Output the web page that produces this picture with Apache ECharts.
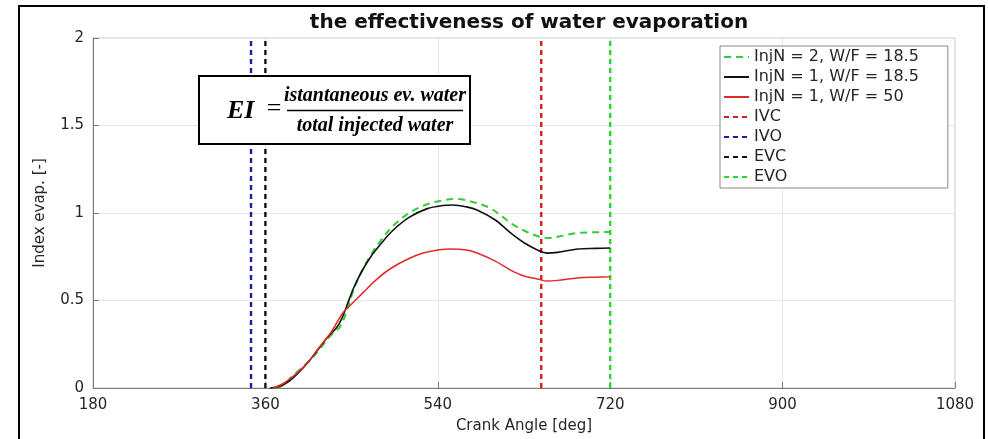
<!DOCTYPE html>
<html>
<head>
<meta charset="utf-8">
<script src="https://cdn.jsdelivr.net/npm/echarts@6/dist/echarts.min.js"></script>
<style>
html,body{margin:0;padding:0;background:#fff;}
#chart{width:989px;height:439px;}
</style>
</head>
<body>
<div id="chart"></div>
<script>
// ---- data ----
const xTicks = [180, 360, 540, 720, 900, 1080];
const yTicks = [0, 0.5, 1, 1.5, 2];

const injN2Angle = [372, 380, 386, 395, 405, 415, 425, 432, 438, 445, 452, 460, 470, 480, 493, 510, 529, 545, 560, 575, 592, 605, 616, 630, 647, 657, 670, 686, 705, 720];
const injN2Value = [0, 0.02, 0.057, 0.10, 0.15, 0.21, 0.28, 0.32, 0.35, 0.44, 0.56, 0.66, 0.76, 0.84, 0.925, 1.0, 1.05, 1.072, 1.08, 1.065, 1.035, 0.99, 0.943, 0.90, 0.863, 0.857, 0.87, 0.886, 0.89, 0.891];

const injN1Angle = [365, 375, 385, 395, 405, 415, 425, 435, 440, 445, 452, 460, 470, 480, 493, 510, 529, 545, 556, 570, 581, 600, 616, 630, 644, 654, 665, 686, 705, 720];
const injN1Value = [0, 0.01, 0.04, 0.09, 0.15, 0.22, 0.29, 0.35, 0.40, 0.47, 0.57, 0.66, 0.75, 0.82, 0.90, 0.975, 1.025, 1.043, 1.046, 1.035, 1.017, 0.96, 0.886, 0.83, 0.789, 0.771, 0.775, 0.794, 0.798, 0.80];

const wf50Angle = [368, 380, 393, 405, 414, 428, 441, 450, 462, 475, 490, 510, 529, 553, 570, 581, 600, 616, 630, 644, 654, 665, 686, 705, 720];
const wf50Value = [0, 0.03, 0.086, 0.15, 0.217, 0.314, 0.43, 0.48, 0.545, 0.615, 0.68, 0.74, 0.777, 0.794, 0.788, 0.771, 0.725, 0.674, 0.64, 0.623, 0.611, 0.615, 0.629, 0.633, 0.635];

const valveNames = ['IVC', 'IVO', 'EVC', 'EVO'];
const valveAngles = [648, 345, 360, 720];
const valveSpan = [0, 2];

const curveNames = ['InjN = 2, W/F = 18.5', 'InjN = 1, W/F = 18.5', 'InjN = 1, W/F = 50'];

// ---- chart ----
const pair = (xs, ys) => xs.map((x, i) => [x, ys[i]]);
const valveColors = ['#d41c1c', '#1c1ca8', '#111111', '#2fd62f'];

const series = [
  { name: curveNames[0], type: 'line', data: pair(injN2Angle, injN2Value), smooth: 0.35, symbol: 'none',
    lineStyle: { color: '#33cc33', width: 2, type: [7, 5] }, itemStyle: { color: '#33cc33' }, z: 3 },
  { name: curveNames[1], type: 'line', data: pair(injN1Angle, injN1Value), smooth: 0.35, symbol: 'none',
    lineStyle: { color: '#111111', width: 1.6 }, itemStyle: { color: '#111111' }, z: 4 },
  { name: curveNames[2], type: 'line', data: pair(wf50Angle, wf50Value), smooth: 0.35, symbol: 'none',
    lineStyle: { color: '#e02a2a', width: 1.5 }, itemStyle: { color: '#e02a2a' }, z: 4 }
];
valveNames.forEach((n, i) => {
  series.push({ name: n, type: 'line', symbol: 'none',
    data: valveSpan.map(v => [valveAngles[i], v]),
    lineStyle: { color: valveColors[i], width: 2.4, type: [5, 4] },
    itemStyle: { color: valveColors[i] }, z: 2 });
});

const chart = echarts.init(document.getElementById('chart'), null, { renderer: 'canvas' });
const F = 'DejaVu Sans';
const S = 'Liberation Serif';
chart.setOption({
  animation: false,
  backgroundColor: '#fff',
  title: {
    text: 'the effectiveness of water evaporation',
    left: 524, top: 8, textAlign: 'center',
    textStyle: { fontFamily: F, fontWeight: 'bold', fontSize: 20, color: '#111' }
  },
  grid: { left: 93, right: 34, top: 38, bottom: 51, show: true, borderColor: '#c8c8c8', borderWidth: 1 },
  legend: {
    orient: 'vertical', left: 720, top: 46,
    data: curveNames.concat(valveNames),
    backgroundColor: '#fff', borderColor: '#8a8a8a', borderWidth: 1,
    padding: [3, 29, 3, 3],
    itemWidth: 25, itemHeight: 14, itemGap: 4,
    itemStyle: { opacity: 0 },
    textStyle: { fontFamily: F, fontSize: 16, color: '#262626', lineHeight: 16 }
  },
  xAxis: {
    type: 'value', min: xTicks[0], max: xTicks[xTicks.length - 1], interval: 180,
    name: 'Crank Angle [deg]', nameLocation: 'middle', nameGap: 31,
    nameTextStyle: { fontFamily: F, fontSize: 15, color: '#262626' },
    axisLine: { show: true, lineStyle: { color: '#7a7a7a', width: 1 } },
    axisTick: { show: true, inside: true, length: 6, lineStyle: { color: '#7a7a7a' } },
    axisLabel: { fontFamily: F, fontSize: 15, color: '#262626', margin: 10, formatter: v => String(v) },
    splitLine: { show: true, lineStyle: { color: '#e6e6e6', width: 1 } }
  },
  yAxis: {
    type: 'value', min: yTicks[0], max: yTicks[yTicks.length - 1], interval: 0.5,
    name: 'Index evap. [-]', nameLocation: 'middle', nameGap: 45, nameRotate: 90,
    nameTextStyle: { fontFamily: F, fontSize: 15, color: '#262626' },
    axisLine: { show: true, lineStyle: { color: '#7a7a7a', width: 1 } },
    axisTick: { show: true, inside: true, length: 6, lineStyle: { color: '#7a7a7a' } },
    axisLabel: { fontFamily: F, fontSize: 15, color: '#262626', margin: 9, formatter: v => String(v) },
    splitLine: { show: true, lineStyle: { color: '#e6e6e6', width: 1 } }
  },
  series: series,
  graphic: [
    { type: 'rect', z: 200, zlevel: 1, silent: true, shape: { x: 19, y: 6, width: 965, height: 445 },
      style: { fill: 'none', stroke: '#000', lineWidth: 2 } },
    { type: 'rect', z: 200, zlevel: 1, shape: { x: 199, y: 76, width: 271, height: 68 },
      style: { fill: '#fff', stroke: '#000', lineWidth: 2 } },
    { type: 'text', z: 201, zlevel: 1, x: 227, y: 111,
      style: { text: 'EI', textAlign: 'left', verticalAlign: 'middle',
        fontFamily: S, fontStyle: 'italic', fontWeight: 'bold', fontSize: 26, fill: '#000' } },
    { type: 'text', z: 201, zlevel: 1, x: 274, y: 109,
      style: { text: '=', textAlign: 'center', verticalAlign: 'middle',
        fontFamily: S, fontSize: 26, fill: '#000' } },
    { type: 'text', z: 201, zlevel: 1, x: 375, y: 96,
      style: { text: 'istantaneous ev. water', textAlign: 'center', verticalAlign: 'middle',
        fontFamily: S, fontStyle: 'italic', fontWeight: 'bold', fontSize: 20, fill: '#000' } },
    { type: 'line', z: 201, zlevel: 1, shape: { x1: 287, y1: 110.5, x2: 463, y2: 110.5 },
      style: { stroke: '#000', lineWidth: 1.5 } },
    { type: 'text', z: 201, zlevel: 1, x: 375, y: 126,
      style: { text: 'total injected water', textAlign: 'center', verticalAlign: 'middle',
        fontFamily: S, fontStyle: 'italic', fontWeight: 'bold', fontSize: 20, fill: '#000' } }
  ]
});
</script>
</body>
</html>
